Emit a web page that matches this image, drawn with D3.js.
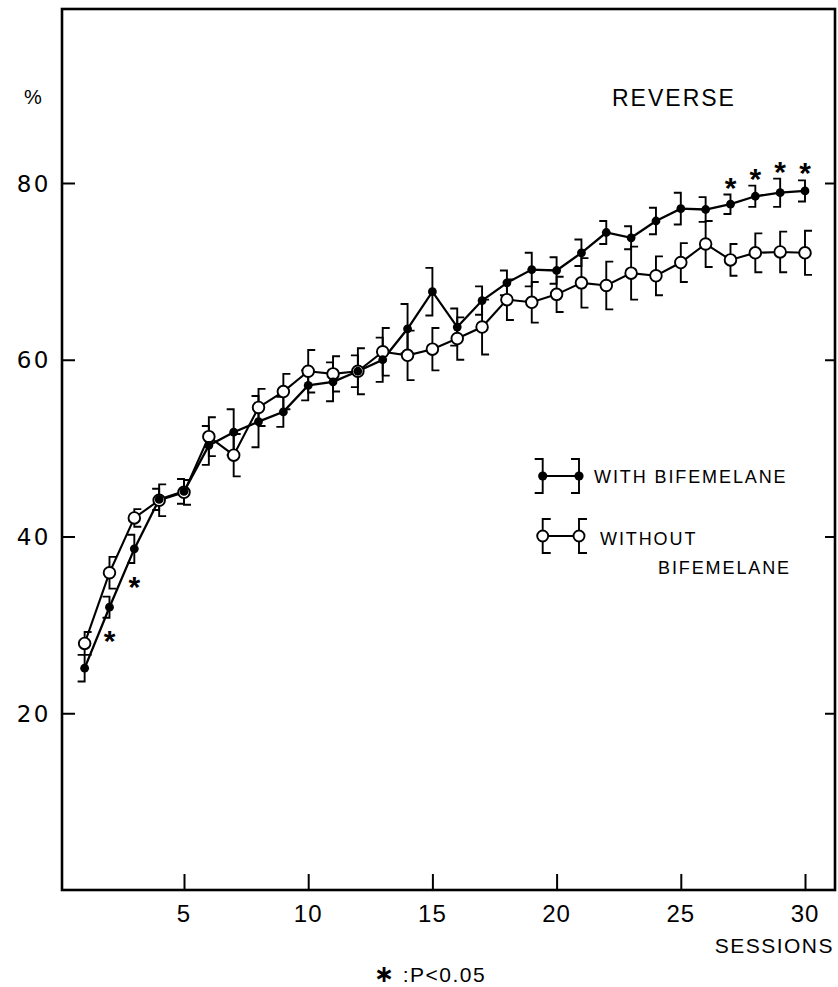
<!DOCTYPE html>
<html>
<head>
<meta charset="utf-8">
<script src="https://cdn.jsdelivr.net/npm/d3@7"></script>
<style>
  html, body { margin: 0; padding: 0; background: #fff; }
  svg { display: block; }
  text { font-family: "Liberation Sans", Arial, Helvetica, sans-serif; fill: #000; }
</style>
</head>
<body>
<svg id="chart" width="838" height="987"></svg>
<script>
// ---- data ----
const sessions = d3.range(1, 31);
const withMean = [25.1, 32.0, 38.6, 44.2, 45.1, 50.3, 51.8, 53.0, 54.1, 57.1,
                  57.5, 58.7, 60.0, 63.5, 67.7, 63.7, 66.7, 68.7, 70.2, 70.1,
                  72.1, 74.4, 73.8, 75.7, 77.1, 77.0, 77.6, 78.5, 78.9, 79.1];
const withSE   = [1.5, 1.2, 1.6, 1.2, 1.4, 2.2, 2.6, 2.9, 1.7, 1.7,
                  2.2, 1.8, 2.5, 2.8, 2.7, 2.1, 1.6, 1.4, 1.9, 1.5,
                  1.5, 1.3, 1.3, 1.5, 1.8, 1.4, 1.1, 1.2, 1.6, 1.2];
const withoutMean = [27.9, 35.9, 42.1, 44.1, 45.0, 51.3, 49.2, 54.6, 56.4, 58.7,
                     58.4, 58.7, 60.9, 60.5, 61.2, 62.4, 63.7, 66.8, 66.5, 67.4,
                     68.7, 68.4, 69.8, 69.5, 71.0, 73.1, 71.3, 72.1, 72.2, 72.1];
const withoutSE   = [1.3, 1.8, 1.0, 1.8, 1.4, 2.2, 2.4, 2.1, 2.0, 2.4,
                     2.0, 2.6, 2.7, 2.8, 2.4, 2.4, 3.1, 2.3, 2.3, 2.0,
                     2.8, 2.7, 3.0, 2.2, 2.2, 2.6, 1.8, 2.2, 2.3, 2.5];
const sigBelow = [2, 3];            // significance marks under the filled series
const sigAbove = [27, 28, 29, 30];  // significance marks over the filled series
const xTicks = [5, 10, 15, 20, 25, 30];
const yTicks = [20, 40, 60, 80];
const labels = {
  title: "REVERSE",
  yUnit: "%",
  xTitle: "SESSIONS",
  noteStar: "\u2217",
  note: " :P<0.05",
  withLabel: "WITH BIFEMELANE",
  withoutLabel1: "WITHOUT",
  withoutLabel2: "BIFEMELANE"
};

// ---- layout ----
const svg = d3.select("#chart");
const frame = { left: 62, right: 835, top: 9, bottom: 890 };
const x = d3.scaleLinear().domain([5, 30]).range([184, 805]);
const y = d3.scaleLinear().domain([0, 80]).range([890, 183]);

svg.append("rect").attr("width", 838).attr("height", 987).attr("fill", "#fff");

// frame
svg.append("rect")
  .attr("x", frame.left).attr("y", frame.top)
  .attr("width", frame.right - frame.left).attr("height", frame.bottom - frame.top)
  .attr("fill", "none").attr("stroke", "#000").attr("stroke-width", 2.6);

// y ticks (left and right, inward)
const yAxisL = d3.axisRight(y).tickValues(yTicks).tickSize(13).tickFormat("");
svg.append("g").attr("transform", `translate(${frame.left},0)`).call(yAxisL)
  .call(g => g.select(".domain").remove())
  .call(g => g.selectAll("line").attr("stroke-width", 2));
const yAxisR = d3.axisLeft(y).tickValues(yTicks).tickSize(10).tickFormat("");
svg.append("g").attr("transform", `translate(${frame.right},0)`).call(yAxisR)
  .call(g => g.select(".domain").remove())
  .call(g => g.selectAll("line").attr("stroke-width", 2));
// y labels
svg.append("g").selectAll("text").data(yTicks).join("text")
  .attr("x", 51).attr("y", d => y(d) + 8.5)
  .attr("text-anchor", "end").attr("font-size", 23).attr("letter-spacing", 2.5)
  .style("font-family", "'DejaVu Sans', sans-serif")
  .text(d => d);
svg.append("text").attr("x", 33).attr("y", 104).attr("text-anchor", "middle")
  .attr("font-size", 20).text(labels.yUnit);

// x ticks (inward)
const xAxis = d3.axisTop(x).tickValues(xTicks).tickSize(16).tickFormat("");
svg.append("g").attr("transform", `translate(0,${frame.bottom})`).call(xAxis)
  .call(g => g.select(".domain").remove())
  .call(g => g.selectAll("line").attr("stroke-width", 2));
svg.append("g").selectAll("text").data(xTicks).join("text")
  .attr("x", d => x(d)).attr("y", 922)
  .attr("text-anchor", "middle").attr("font-size", 24).attr("letter-spacing", 1)
  .text(d => d);

svg.append("text").attr("x", 834).attr("y", 953).attr("text-anchor", "end")
  .attr("font-size", 21).attr("letter-spacing", 1.5).text(labels.xTitle);
const note = svg.append("text").attr("x", 430).attr("y", 982).attr("text-anchor", "middle")
  .attr("font-size", 21).attr("letter-spacing", 1.5);
note.append("tspan").style("font-family", "'DejaVu Sans', sans-serif")
  .attr("font-size", 24).attr("font-weight", "bold").text(labels.noteStar);
note.append("tspan").text(labels.note);
svg.append("text").attr("x", 612).attr("y", 106)
  .attr("font-size", 23).attr("letter-spacing", 2).text(labels.title);

// ---- data marks ----
const withData = sessions.map((s, i) => ({ s, m: withMean[i], e: withSE[i] }));
const withoutData = sessions.map((s, i) => ({ s, m: withoutMean[i], e: withoutSE[i] }));
const line = d3.line().x(d => x(d.s)).y(d => y(d.m));
const CAP = 7;

function errorBars(data, dir) {
  const g = svg.append("g").attr("stroke", "#000").attr("stroke-width", 1.9).attr("fill", "none");
  g.selectAll("path").data(data).join("path")
    .attr("d", d => {
      const cx = x(d.s), yt = y(d.m + d.e), yb = y(d.m - d.e);
      return `M${cx + dir * CAP},${yt}H${cx}V${yb}H${cx + dir * CAP}`;
    });
}

svg.append("path").datum(withData).attr("d", line)
  .attr("fill", "none").attr("stroke", "#000").attr("stroke-width", 2.3);
svg.append("path").datum(withoutData).attr("d", line)
  .attr("fill", "none").attr("stroke", "#000").attr("stroke-width", 2.1);

errorBars(withData, -1);
errorBars(withoutData, 1);

svg.append("g").selectAll("circle").data(withoutData).join("circle")
  .attr("cx", d => x(d.s)).attr("cy", d => y(d.m)).attr("r", 5.8)
  .attr("fill", "#fff").attr("stroke", "#000").attr("stroke-width", 1.9);
svg.append("g").selectAll("circle").data(withData).join("circle")
  .attr("cx", d => x(d.s)).attr("cy", d => y(d.m)).attr("r", 4.4)
  .attr("fill", "#000");

// significance stars (text glyph)
const STAR = 30;
svg.append("g").selectAll("text").data(sigAbove).join("text")
  .attr("x", s => x(s)).attr("y", s => { const d = withData[s - 1]; return y(d.m + d.e) - 12.5 + 0.52 * STAR; })
  .attr("text-anchor", "middle").attr("font-size", STAR).attr("font-weight", "bold").text("*");
svg.append("g").selectAll("text").data(sigBelow).join("text")
  .attr("x", s => x(s)).attr("y", s => { const d = withData[s - 1]; return y(d.m - d.e) + 18 + 0.52 * STAR; })
  .attr("text-anchor", "middle").attr("font-size", STAR).attr("font-weight", "bold").text("*");

// ---- legend ----
const lg = svg.append("g");
function legendItem(yc, filled, dir) {
  const xs = [542.7, 579];
  lg.append("line").attr("x1", xs[0]).attr("x2", xs[1]).attr("y1", yc).attr("y2", yc)
    .attr("stroke", "#000").attr("stroke-width", 2);
  xs.forEach(cx => {
    lg.append("path")
      .attr("d", `M${cx + dir * 8},${yc - 17}H${cx}V${yc + 17}H${cx + dir * 8}`)
      .attr("fill", "none").attr("stroke", "#000").attr("stroke-width", 1.9);
    lg.append("circle").attr("cx", cx).attr("cy", yc).attr("r", filled ? 4.6 : 5.5)
      .attr("fill", filled ? "#000" : "#fff").attr("stroke", "#000")
      .attr("stroke-width", filled ? 0 : 1.9);
  });
}
legendItem(476, true, -1);
legendItem(536, false, 1);
lg.append("text").attr("x", 594).attr("y", 483).attr("font-size", 18)
  .attr("letter-spacing", 1.9).text(labels.withLabel);
lg.append("text").attr("x", 600).attr("y", 545).attr("font-size", 18)
  .attr("letter-spacing", 1.9).text(labels.withoutLabel1);
lg.append("text").attr("x", 658).attr("y", 574).attr("font-size", 18)
  .attr("letter-spacing", 1.9).text(labels.withoutLabel2);
</script>
</body>
</html>
